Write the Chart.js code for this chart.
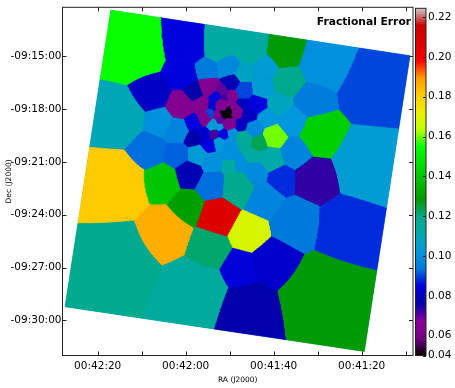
<!DOCTYPE html>
<html><head><meta charset="utf-8">
<style>html,body{margin:0;padding:0;background:#fff}canvas{position:absolute;top:0}</style>
<script src="https://cdn.jsdelivr.net/npm/chart.js@4"></script>
</head><body>
<canvas id="map" width="415" height="388" style="left:0"></canvas>
<canvas id="bar" width="40" height="388" style="left:415px"></canvas>
<script>
// RA in seconds after 00:41:00, Dec in arcminutes south of -09:00:00
const raTickValues=[80,70,60,50,40,30,20,10];
const raTickLabels=['00:42:20','','00:42:00','','00:41:40','','00:41:20',''];
const decTickValues=[15,18,21,24,27,30];
const decTickLabels=['-09:15:00','-09:18:00','-09:21:00','-09:24:00','-09:27:00','-09:30:00'];
const barTickValues=[0.05,0.06,0.08,0.10,0.12,0.14,0.16,0.18,0.20,0.22];
const barTickLabels=['0.04','0.06','0.08','0.10','0.12','0.14','0.16','0.18','0.20','0.22'];
const frameRa=[77.04,9.02,19.4,87.43];
const frameDec=[12.37,14.96,31.77,29.23];
const cellRa=[72.2,60.15,52.65,45.4,37,28,16.3,18.1,29,30.15,22.65,34.7,28.3,45.8,47.65,39.7,45.4,52.65,55.15,65.4,77.2,76.1,59,76.1,68.1,61.3,55.6,50.4,46.5,41.75,36.3,30.8,38.6,42.4,35.6,39.7,41.3,34.9,38.1,44.2,40.4,43.1,44.5,46.75,44.2,48.1,42,
61.3,58.35,55.15,56.75,53.35,55.84,54.7,54,51.75,51.3,49.45,49.25,51.75,48.35,49.9,50.6,50.6,51.75,49.45,51.3,49.9,52.9,52.2,46.5,43.55,46.5,45.4,47.4,49.25,51.3,52.4,54,53.55,56.05,58.35,54.9,58.55,52.4,49.7,57.4,54.25,62,62.2,66.3,68.8,65.8,59,54,59.45,49.9,49.9,47.65];
const cellDec=[14.49,14.1,14.1,14.32,14.6,15.34,16.75,21.15,19.46,21.99,24.81,24.47,28.87,29.72,27.18,26.73,25.04,24.08,26.05,25.21,22.39,26.9,28.59,18.44,17.03,15.9,15.62,15.45,15.9,15.62,16.35,17.42,17.71,16.8,18.72,19.57,18.5,20.47,21.99,21.65,20.87,19.91,20.7,19.74,19.12,22.39,23.12,
17.76,17.03,16.75,17.71,17.31,18.49,18.27,17.76,16.92,17.37,16.47,17.2,17.76,18.16,18.83,18.21,18,18.16,18.16,18.44,18.44,18.33,18.61,16.92,17.71,17.71,18.33,18.89,19.34,19.45,19,18.89,19.45,19.4,19.68,20.08,18.78,19.96,20.02,20.64,21.09,20.58,19.17,18.72,20.3,22.1,21.65,22.28,23.52,20.58,21.26,21.15];
const cellSize=[32,24,20,18,19,26,34,34,20,20,30,21,40,30,16,20,15,15,17,23,33,40,34,28,18,15,10,10,9,12,15,17,11,10,13,11,9,14,13,12,12,8,8,8,8,15,15,
13,9,8,8,5,7,4.5,4.5,5,3.5,7,5,6,6,6,2.5,2.5,2.5,2.5,2.5,2.5,4,4,8,9,6,7,6,5,5,4,5,5,6,8,7,8,6,7,10,10,11,12,14,16,15,12,13,13,7,8,8];
const cellError=[.155,.085,.113,.113,.128,.10,.09,.104,.1425,.073,.088,.094,.128,.076,.084,.082,.168,.207,.1215,.186,.181,.118,.1145,.109,.081,.085,.094,.098,.107,.104,.118,.095,.108,.104,.102,.16,.102,.097,.088,.099,.112,.123,.113,.115,.098,.118,.097,
.064,.076,.064,.064,.085,.064,.09,.082,.07,.072,.078,.064,.064,.064,.064,.05,.05,.05,.05,.05,.05,.064,.07,.09,.085,.08,.08,.08,.1,.085,.102,.103,.072,.082,.076,.085,.085,.103,.10,.103,.10,.092,.097,.10,.093,.14,.078,.093,.13,.10,.113,.10];
const errMin=0.05, errMax=0.2244;
const cmapPos=[0,.05,.1,.15,.2,.25,.3,.35,.4,.45,.5,.55,.6,.65,.7,.75,.8,.85,.9,.95,1];
const cmapR=[0,.4667,.5333,0,0,0,0,0,0,0,0,0,0,.7333,.9333,1,1,1,.8667,.8,.8];
const cmapG=[0,0,0,0,0,.4667,.6,.6667,.6667,.6,.7333,.8667,1,1,.9333,.8,.6,0,0,0,.8];
const cmapB=[0,.5333,.6,.6667,.8667,.8667,.8667,.6667,.5333,0,0,0,0,0,0,0,0,0,0,0,.8];

function cmap(t){
  t=Math.min(1,Math.max(0,t));
  let i=Math.min(cmapPos.length-2,Math.floor(t/.05));
  const f=(t-cmapPos[i])/.05, c=a=>Math.round(255*(a[i]+(a[i+1]-a[i])*f));
  return `rgb(${c(cmapR)},${c(cmapG)},${c(cmapB)})`;
}
const KX=0.248, KS=1/17.73;
function owns(i,x,y){
  const di=Math.hypot((x-cellRa[i])*KX,y-cellDec[i])-cellSize[i]*KS;
  for(let j=0;j<cellRa.length;j++){
    if(j===i)continue;
    if(Math.hypot((x-cellRa[j])*KX,y-cellDec[j])-cellSize[j]*KS<di)return false;
  }
  return true;
}
function clipFrame(poly){
  let out=poly;
  const n=frameRa.length;
  const cx=frameRa.reduce((a,b)=>a+b)/n, cy=frameDec.reduce((a,b)=>a+b)/n;
  for(let k=0;k<n;k++){
    const ax=frameRa[k],ay=frameDec[k],bx=frameRa[(k+1)%n],by=frameDec[(k+1)%n];
    const side=(x,y)=>(bx-ax)*(y-ay)-(by-ay)*(x-ax);
    const sgn=Math.sign(side(cx,cy));
    const res=[];
    for(let m=0;m<out.length;m++){
      const p=out[m],q=out[(m+1)%out.length];
      const sp=side(p.x,p.y)*sgn,sq=side(q.x,q.y)*sgn;
      if(sp>=0)res.push(p);
      if((sp>=0)!==(sq>=0)){const t=sp/(sp-sq);res.push({x:p.x+(q.x-p.x)*t,y:p.y+(q.y-p.y)*t});}
    }
    out=res;
    if(!out.length)break;
  }
  return out;
}
function cellPolygon(i){
  const pts=[],N=144,step=0.04;
  for(let a=0;a<N;a++){
    const th=2*Math.PI*a/N,c=Math.cos(th)/KX,s=Math.sin(th);
    let lo=0,hi=null;
    for(let r=step;r<26;r+=step*(1+r)){
      const x=cellRa[i]+r*c,y=cellDec[i]+r*s;
      if(x<0||x>100||y<8||y>36){hi=null;lo=r;break;}
      if(!owns(i,x,y)){hi=r;break;}
      lo=r;
    }
    if(hi!==null){for(let k=0;k<12;k++){const mid=(lo+hi)/2;if(owns(i,cellRa[i]+mid*c,cellDec[i]+mid*s))lo=mid;else hi=mid;}}
    pts.push({x:cellRa[i]+lo*c,y:cellDec[i]+lo*s});
  }
  const p=clipFrame(pts);
  if(p.length)p.push(p[0]);
  return p;
}
const INK='#222';
const FONT='"DejaVu Sans"';
const datasets=[];
const base=frameRa.map((x,i)=>({x,y:frameDec[i]}));base.push(base[0]);
datasets.push({data:base,showLine:true,pointRadius:0,borderWidth:0,backgroundColor:cmap((0.10-errMin)/(errMax-errMin)),fill:'shape',order:200});
for(let i=0;i<cellRa.length;i++){
  const col=cmap((cellError[i]-errMin)/(errMax-errMin));
  datasets.push({data:cellPolygon(i),showLine:true,pointRadius:0,borderWidth:0.6,borderColor:col,backgroundColor:col,fill:'shape',tension:0,order:100-cellSize[i]/100});
}
const inwardTicks={id:'inwardTicks',afterDraw(chart){
  const {ctx,chartArea:a,scales:{x,y}}=chart;
  ctx.save();ctx.strokeStyle=INK;ctx.lineWidth=1;ctx.beginPath();
  x.ticks.forEach(t=>{const p=Math.round(x.getPixelForValue(t.value))+.5;ctx.moveTo(p,a.top);ctx.lineTo(p,a.top+4);ctx.moveTo(p,a.bottom);ctx.lineTo(p,a.bottom-4);});
  y.ticks.forEach(t=>{const p=Math.round(y.getPixelForValue(t.value))+.5;ctx.moveTo(a.left,p);ctx.lineTo(a.left+4,p);ctx.moveTo(a.right,p);ctx.lineTo(a.right-4,p);});
  ctx.stroke();
  ctx.strokeRect(a.left,a.top,a.right-a.left,a.bottom-a.top);
  ctx.fillStyle='#000';ctx.font='bold 10.7px '+FONT;ctx.textAlign='right';ctx.textBaseline='middle';
  ctx.fillText('Fractional Error',411,22);
  ctx.restore();
}};
new Chart(document.getElementById('map'),{
  type:'scatter',
  data:{datasets},
  plugins:[inwardTicks],
  options:{responsive:false,animation:false,events:[],
    layout:{padding:{top:4.5,right:2,left:0,bottom:0}},
    plugins:{legend:{display:false},tooltip:{enabled:false},filler:{propagate:false}},
    scales:{
      x:{type:'linear',reverse:true,min:8.34,max:88,grid:{display:false,drawTicks:false},border:{display:false},
        afterBuildTicks(s){s.ticks=raTickValues.map(value=>({value}));},
        afterFit(s){s.height=32.5;},
        ticks:{autoSkip:false,maxRotation:0,padding:4,color:'#000',font:{family:FONT,size:10.5},
          callback:v=>raTickLabels[raTickValues.indexOf(v)]},
        title:{display:true,text:'RA (J2000)',color:'#000',font:{family:FONT,size:7.5},padding:{top:0,bottom:3}}},
      y:{type:'linear',reverse:true,min:12.21,max:32,grid:{display:false,drawTicks:false},border:{display:false},
        afterBuildTicks(s){s.ticks=decTickValues.map(value=>({value}));},
        afterFit(s){s.width=62.5;},
        ticks:{autoSkip:false,padding:1,color:'#000',font:{family:FONT,size:10.5},
          callback:v=>decTickLabels[decTickValues.indexOf(v)]},
        title:{display:true,text:'Dec (J2000)',color:'#000',font:{family:FONT,size:7.5},padding:{top:5,bottom:0}}}
    }}
});
const barFrame={id:'barFrame',afterDraw(chart){
  const {ctx,chartArea:a,scales:{y}}=chart;
  ctx.save();ctx.strokeStyle=INK;ctx.lineWidth=1;ctx.beginPath();
  y.ticks.forEach(t=>{const p=Math.round(y.getPixelForValue(t.value))+.5;ctx.moveTo(a.right,p);ctx.lineTo(a.right-3,p);});
  ctx.stroke();ctx.strokeRect(a.left,a.top,a.right-a.left,a.bottom-a.top);ctx.restore();
}};
new Chart(document.getElementById('bar'),{
  type:'bar',
  data:{labels:['err'],datasets:[{data:[[errMin,errMax]],barPercentage:1,categoryPercentage:1,borderWidth:0,
    backgroundColor(c){
      const a=c.chart.chartArea; if(!a)return '#000';
      const g=c.chart.ctx.createLinearGradient(0,a.bottom,0,a.top);
      cmapPos.forEach((t)=>g.addColorStop(t,cmap(t)));
      return g;}}]},
  plugins:[barFrame],
  options:{responsive:false,animation:false,events:[],
    layout:{padding:{top:4.5,bottom:32.5,left:.5,right:0}},
    plugins:{legend:{display:false},tooltip:{enabled:false}},
    scales:{
      x:{display:false},
      y:{position:'right',min:errMin,max:errMax,grid:{display:false,drawTicks:false},border:{display:false},
        afterBuildTicks(s){s.ticks=barTickValues.map(value=>({value}));},
        afterFit(s){s.width=29;},
        ticks:{autoSkip:false,padding:2,color:'#000',font:{family:FONT,size:10.5},
          callback:v=>barTickLabels[barTickValues.indexOf(v)]}}
    }}
});
</script></body></html>
